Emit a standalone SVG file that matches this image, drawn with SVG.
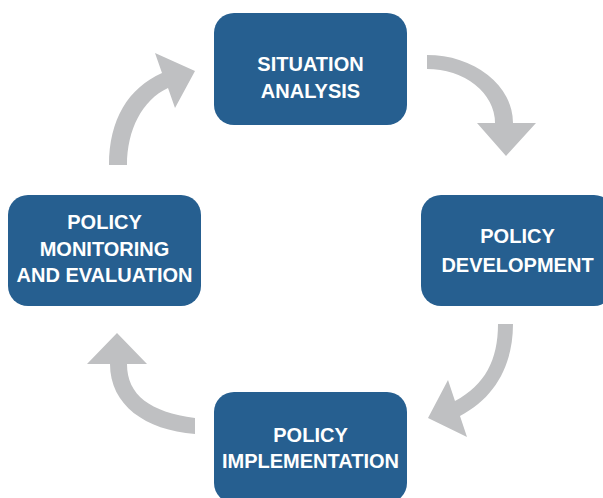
<svg xmlns="http://www.w3.org/2000/svg" width="603" height="498" viewBox="0 0 603 498">
<style>
.box{fill:#265F90;}
.lbl{font-family:"Liberation Sans",Arial,sans-serif;font-weight:bold;font-size:20px;fill:#FFFFFF;text-anchor:middle;}
.arr{fill:#BFC0C2;}
</style>
<rect width="603" height="498" fill="#FFFFFF"/>
<g id="connectors">
<path id="a1" class="arr" d="M427,55 A86,68 0 0 1 513,123 L536,123 L506,156 L477,123 L495,123 A68,54 0 0 0 427,69 Z"/>
<path id="a2" class="arr" d="M498,324 C498,360 485,385 455,401 L448,380 L428,418 L467,437 L460,416 C495,398 513,365 513,324 Z"/>
<path id="a3" class="arr" d="M195,418 C150,412 127,395 127,364 L147,364 L117,333 L87,364 L110,364 C110,405 145,430 195,434 Z"/>
<path id="a4" class="arr" d="M109,165 C109,120 128,88 162,73 L155,53 L195,71 L175,108 L168,88 C142,100 127,130 127,165 Z"/>
</g>
<g id="situation">
<rect class="box" x="214" y="13" width="193" height="112" rx="20"/>
<text class="lbl" x="310.5" y="71">SITUATION</text>
<text class="lbl" x="310.5" y="98">ANALYSIS</text>
</g>
<g id="development">
<rect class="box" x="421" y="195" width="193" height="111" rx="20"/>
<text class="lbl" x="517.5" y="243">POLICY</text>
<text class="lbl" x="517.5" y="272">DEVELOPMENT</text>
</g>
<g id="implementation">
<rect class="box" x="214" y="392" width="193" height="111" rx="20"/>
<text class="lbl" x="310.5" y="442">POLICY</text>
<text class="lbl" x="310.5" y="468">IMPLEMENTATION</text>
</g>
<g id="monitoring">
<rect class="box" x="8" y="195" width="193" height="111" rx="20"/>
<text class="lbl" x="104.5" y="229">POLICY</text>
<text class="lbl" x="104.5" y="256">MONITORING</text>
<text class="lbl" x="104.5" y="282">AND EVALUATION</text>
</g>
</svg>
